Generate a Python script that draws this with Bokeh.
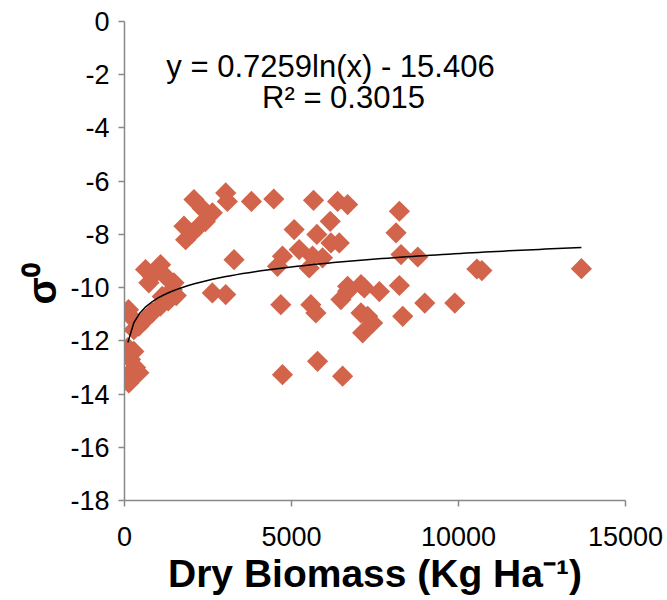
import numpy as np
from bokeh.plotting import figure
from bokeh.models import ColumnDataSource, FixedTicker, Label, Title
from bokeh.embed import file_html
from bokeh.resources import INLINE

# Dry biomass (kg/ha) and backscatter sigma0 (dB)
biomass = [
    100, 280, 180, 330, 110, 130, 430,
    120, 230, 280, 430, 620, 830, 1070, 1310, 1550,
    630, 1080, 830, 1280, 1480, 730, 1430, 1130,
    2080, 2330, 2630, 1780, 2230, 2420, 1830, 2030,
    3030, 3080, 3800, 4470, 5660, 6380, 6680, 8230,
    3280, 5080, 6160, 5760, 6430, 6180, 5230, 4730, 4580, 5530, 5930, 5630, 8130, 8280, 8780,
    6680, 7080, 7180, 7630, 8230, 6480, 6680, 4680, 5580, 5730, 7080, 7280, 7430, 7130,
    8990, 9890, 8330, 2630, 3030,
    5780, 4730, 6530,
    10550, 10700, 13680,
]
sigma0 = [
    -12.25, -12.4, -12.7, -13.0, -13.27, -13.58, -13.2,
    -10.83, -11.14, -11.58, -11.45, -11.2, -10.94, -10.7, -10.5, -10.3,
    -9.32, -9.14, -9.57, -9.64, -9.82, -9.82, -10.08, -10.33,
    -6.69, -7.03, -7.19, -7.69, -7.69, -7.52, -8.2, -7.94,
    -6.44, -6.76, -6.76, -6.67, -6.72, -6.76, -6.88, -7.13,
    -8.95, -7.82, -7.51, -8.0, -8.32, -8.32, -8.57, -8.82, -9.2, -9.26, -8.88, -8.82, -7.94, -8.76, -8.85,
    -9.95, -9.89, -10.01, -10.15, -9.92, -10.45, -10.14, -10.64, -10.64, -10.95, -10.95, -11.08, -11.33, -11.7,
    -10.58, -10.58, -11.08, -10.2, -10.26,
    -12.77, -13.27, -13.33,
    -9.3, -9.36, -9.29,
]

# Logarithmic trend: y = a ln(x) + b
fit_a = 0.7259
fit_b = -15.406
fit_r2 = 0.3015

x_ticks = [0, 5000, 10000, 15000]
y_ticks = [-18, -16, -14, -12, -10, -8, -6, -4, -2, 0]

FONT = "Liberation Sans"
MARKER = "#D1644B"
AXIS = "#888888"

p = figure(
    width=667, height=600,
    x_range=(0, 15000), y_range=(-18, 0),
    output_backend="svg", toolbar_location=None,
    min_border_left=124, min_border_right=42,
    min_border_top=21, min_border_bottom=100,
)
p.outline_line_color = None
p.grid.grid_line_color = None
p.background_fill_color = "white"
p.border_fill_color = "white"

for ax, ticks in ((p.xaxis, x_ticks), (p.yaxis, y_ticks)):
    ax.ticker = FixedTicker(ticks=ticks)
    ax.major_label_overrides = {t: str(t) for t in ticks}
    ax.axis_line_color = AXIS
    ax.axis_line_width = 1.5
    ax.major_tick_line_color = AXIS
    ax.major_tick_line_width = 1.5
    ax.major_tick_out = 6
    ax.major_tick_in = 0
    ax.minor_tick_line_color = None
    ax.major_label_text_font = FONT
    ax.major_label_text_font_size = "27px"
    ax.major_label_text_color = "black"

p.xaxis.major_label_standoff = 20
p.yaxis.major_label_standoff = 9

p.xaxis.axis_label = "Dry Biomass (Kg Ha⁻¹)"
p.xaxis.axis_label_text_font = FONT
p.xaxis.axis_label_text_font_style = "bold"
p.xaxis.axis_label_text_color = "black"
p.xaxis.axis_label_text_font_size = "39px"
p.xaxis.axis_label_standoff = 3

# y title as a side title, anchored from the bottom of the frame
p.add_layout(Title(text="σ⁰", align="left", offset=196, standoff=8,
                   text_font=FONT, text_font_style="bold",
                   text_font_size="40px", text_color="black"), "left")

src = ColumnDataSource(dict(x=biomass, y=sigma0))
p.scatter("x", "y", source=src, marker="square", size=15, angle=np.pi / 4,
          fill_color=MARKER, line_color=None)

# fitted curve over the observed biomass range
fx = np.linspace(min(biomass), max(biomass), 76)
fy = fit_a * np.log(fx) + fit_b
p.line(fx, fy, line_color="black", line_width=1.5)

# equation text (screen units are relative to the frame's lower-left corner)
p.add_layout(Label(x=206, y=434, x_units="screen", y_units="screen",
                   text=f"y = {fit_a}ln(x) - {abs(fit_b)}", text_font=FONT,
                   text_font_size="31px", text_align="center",
                   text_baseline="alphabetic", text_color="black"))
p.add_layout(Label(x=219, y=403, x_units="screen", y_units="screen",
                   text=f"R² = {fit_r2}", text_font=FONT,
                   text_font_size="31px", text_align="center",
                   text_baseline="alphabetic", text_color="black"))

open("out.html", "w").write(file_html(p, INLINE))
